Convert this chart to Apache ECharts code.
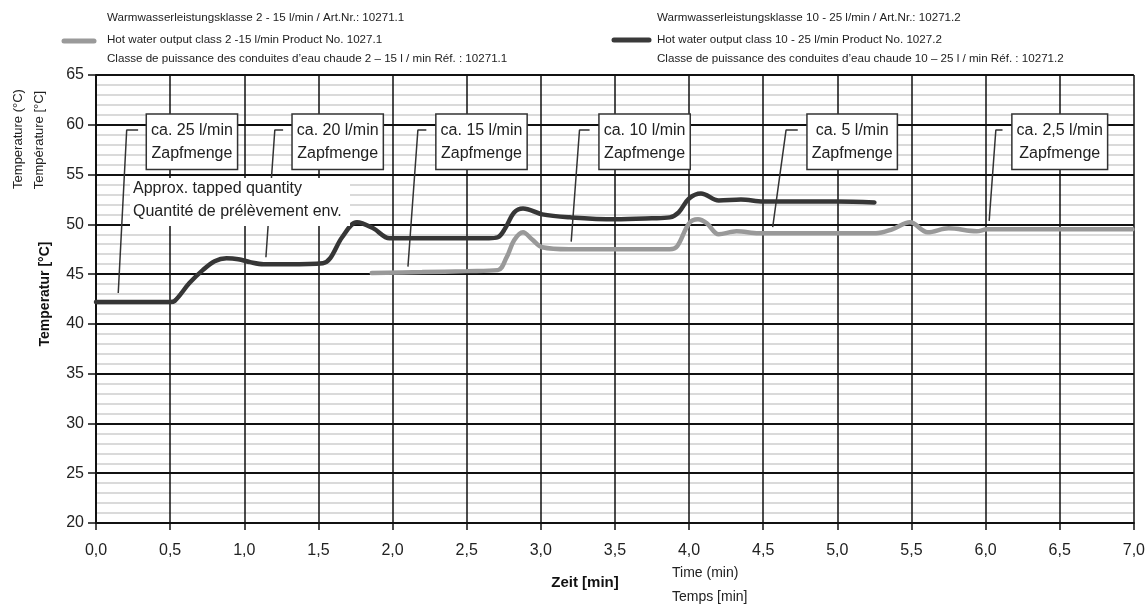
<!DOCTYPE html>
<html><head><meta charset="utf-8">
<script src="https://cdn.jsdelivr.net/npm/echarts/dist/echarts.min.js"></script>
<style>html,body{margin:0;padding:0;background:#fff}#c{width:1148px;height:605px}</style>
</head><body><div id="c"></div>
<script>
// ---- data ----
const darkX = [0, 0.25, 0.5, 0.53, 0.63, 0.72, 0.8, 0.88, 0.96, 1.04, 1.13, 1.3, 1.53, 1.58, 1.66, 1.76, 1.87, 1.98, 2.2, 2.45, 2.65, 2.71, 2.76, 2.82, 2.88, 3.01, 3.2, 3.5, 3.75, 3.87, 3.93, 4.0, 4.08, 4.2, 4.35, 4.5, 4.8, 5.0, 5.25];
const darkY = [42.2, 42.2, 42.2, 42.3, 44.1, 45.4, 46.3, 46.6, 46.5, 46.2, 46.0, 46.0, 46.1, 46.6, 48.7, 50.2, 49.6, 48.6, 48.6, 48.6, 48.6, 48.7, 49.6, 51.2, 51.6, 51.0, 50.7, 50.5, 50.6, 50.7, 51.2, 52.6, 53.1, 52.4, 52.5, 52.3, 52.3, 52.3, 52.2];
const grayX = [1.86, 2.2, 2.5, 2.71, 2.77, 2.82, 2.88, 2.94, 3.01, 3.19, 3.5, 3.87, 3.92, 4.0, 4.06, 4.12, 4.2, 4.32, 4.47, 4.7, 5.0, 5.26, 5.37, 5.49, 5.61, 5.75, 5.94, 6.01, 6.5, 6.99];
const grayY = [45.1, 45.2, 45.3, 45.4, 46.7, 48.4, 49.2, 48.5, 47.7, 47.5, 47.5, 47.5, 47.8, 50.1, 50.5, 50.1, 49.0, 49.3, 49.1, 49.1, 49.1, 49.1, 49.5, 50.2, 49.2, 49.6, 49.3, 49.5, 49.5, 49.5];

const annLabels = ['ca. 25 l/min', 'ca. 20 l/min', 'ca. 15 l/min', 'ca. 10 l/min', 'ca. 5 l/min', 'ca. 2,5 l/min'];
const annSub = 'Zapfmenge';
const annBoxX = [0.647, 1.63, 2.60, 3.70, 5.10, 6.50];
const annBoxY = [58.3, 58.3, 58.3, 58.3, 58.3, 58.3];
const leaderTopX = [0.284, 1.262, 2.228, 3.329, 4.733, 6.114];
const leaderCornerX = [0.207, 1.206, 2.171, 3.261, 4.654, 6.069];
const leaderTipX = [0.150, 1.146, 2.104, 3.205, 4.564, 6.024];
const leaderTipY = [43.1, 46.7, 45.75, 48.26, 49.72, 50.35];
const leaderTopY = [59.47, 59.47, 59.47, 59.47, 59.47, 59.47];

const legendGray = ['Warmwasserleistungsklasse 2 - 15 l/min / Art.Nr.: 10271.1', 'Hot water output class 2 -15 l/min Product No. 1027.1', 'Classe de puissance des conduites d\u2019eau chaude 2 \u2013 15 l / min R\u00e9f. : 10271.1'];
const legendDark = ['Warmwasserleistungsklasse 10 - 25 l/min / Art.Nr.: 10271.2', 'Hot water output class 10 - 25 l/min Product No. 1027.2', 'Classe de puissance des conduites d\u2019eau chaude 10 \u2013 25 l / min R\u00e9f. : 10271.2'];

// ---- build ----
const darkData = darkX.map((x, i) => [x, darkY[i]]);
const grayData = grayX.map((x, i) => [x, grayY[i]]);
const leaderData = [];
annLabels.forEach((_, i) => {
  leaderData.push([leaderTopX[i], leaderTopY[i]], [leaderCornerX[i], leaderTopY[i]], [leaderTipX[i], leaderTipY[i]], '-');
});
const boxData = annLabels.map((t, i) => ({ value: [annBoxX[i], annBoxY[i]], name: t }));

const F = '"Liberation Sans", Arial, sans-serif';
const chart = echarts.init(document.getElementById('c'), null, { renderer: 'canvas' });

const graphics = [];
function txt(x, y, text, opt) {
  graphics.push(Object.assign({ type: 'text', x: x, y: y, z: 100,
    style: Object.assign({ text: text, font: '11.6px ' + F, fill: '#222', textVerticalAlign: 'middle' }, opt || {}) }));
}
[18, 40, 59].forEach((y, i) => { txt(107, y, legendGray[i]); txt(657, y, legendDark[i]); });
graphics.push({ type: 'line', z: 100, shape: { x1: 64, y1: 41, x2: 94, y2: 41 }, style: { stroke: '#9a9a9a', lineWidth: 5, lineCap: 'round' } });
graphics.push({ type: 'line', z: 100, shape: { x1: 614, y1: 40, x2: 649, y2: 40 }, style: { stroke: '#3a3a3a', lineWidth: 5, lineCap: 'round' } });
// Approx. box
graphics.push({ type: 'rect', z: 100, shape: { x: 130, y: 178, width: 220, height: 48 }, style: { fill: '#fff' } });
txt(133, 189, 'Approx. tapped quantity', { font: '16px ' + F });
txt(133, 212, 'Quantit\u00e9 de pr\u00e9l\u00e8vement env.', { font: '16px ' + F });
// axis names
graphics.push({ type: 'text', z: 100, x: 18, y: 139, rotation: Math.PI / 2, style: { text: 'Temperature (\u00b0C)', font: '13px ' + F, fill: '#222', textAlign: 'center', textVerticalAlign: 'middle' } });
graphics.push({ type: 'text', z: 100, x: 39, y: 140, rotation: Math.PI / 2, style: { text: 'Temp\u00e9rature [\u00b0C]', font: '13px ' + F, fill: '#222', textAlign: 'center', textVerticalAlign: 'middle' } });
graphics.push({ type: 'text', z: 100, x: 45, y: 294, rotation: Math.PI / 2, style: { text: 'Temperatur [\u00b0C]', font: 'bold 14px ' + F, fill: '#111', textAlign: 'center', textVerticalAlign: 'middle' } });
graphics.push({ type: 'text', z: 100, x: 585, y: 583, style: { text: 'Zeit [min]', font: 'bold 15px ' + F, fill: '#111', textAlign: 'center', textVerticalAlign: 'middle' } });
txt(672, 573, 'Time (min)', { font: '14px ' + F });
txt(672, 597, 'Temps [min]', { font: '14px ' + F });

chart.setOption({
  animation: false,
  backgroundColor: '#fff',
  grid: { left: 96, right: 13, top: 75, bottom: 82, containLabel: false },
  xAxis: {
    type: 'value', min: 0, max: 7, interval: 0.5,
    axisLine: { show: true, onZero: false, lineStyle: { color: '#111', width: 2 } },
    axisTick: { show: true, length: 7, lineStyle: { color: '#111', width: 1.5 } },
    axisLabel: { formatter: v => v.toFixed(1).replace('.', ','), fontFamily: F, fontSize: 16, color: '#222', margin: 20 },
    splitLine: { show: true, lineStyle: { color: '#111', width: 1.5 } }
  },
  yAxis: [
    { type: 'value', min: 20, max: 65, interval: 1, position: 'left',
      axisLine: { show: false }, axisTick: { show: false }, axisLabel: { show: false },
      splitLine: { show: true, lineStyle: { color: '#dadada', width: 2 } } },
    { type: 'value', min: 20, max: 65, interval: 5, position: 'left',
      axisLine: { show: true, lineStyle: { color: '#111', width: 2 } },
      axisTick: { show: true, length: 8, lineStyle: { color: '#111', width: 1.5 } },
      axisLabel: { fontFamily: F, fontSize: 16, color: '#222', margin: 12 },
      splitLine: { show: true, lineStyle: { color: '#111', width: 2 } } }
  ],
  series: [
    { type: 'line', yAxisIndex: 1, data: leaderData, symbol: 'none', connectNulls: false, z: 3,
      lineStyle: { color: '#333', width: 1.5 } },
    { type: 'line', yAxisIndex: 1, data: grayData, symbol: 'none', smooth: 0.35, z: 4,
      lineStyle: { color: '#999', width: 4.5, cap: 'round' } },
    { type: 'line', yAxisIndex: 1, data: darkData, symbol: 'none', smooth: 0.35, z: 5,
      lineStyle: { color: '#363636', width: 4.5, cap: 'round' } },
    { type: 'scatter', yAxisIndex: 1, data: boxData, symbolSize: 1, z: 6,
      itemStyle: { color: 'rgba(0,0,0,0)', opacity: 1 },
      emphasis: { disabled: true },
      label: { show: true, position: 'inside', formatter: p => p.name + '\n' + annSub,
        fontFamily: F, fontSize: 16, color: '#222', lineHeight: 23, align: 'center', opacity: 1,
        backgroundColor: '#fff', borderColor: '#333', borderWidth: 1.5, padding: [4, 4, 4, 4] } }
  ],
  graphic: graphics
});
</script>
</body></html>
